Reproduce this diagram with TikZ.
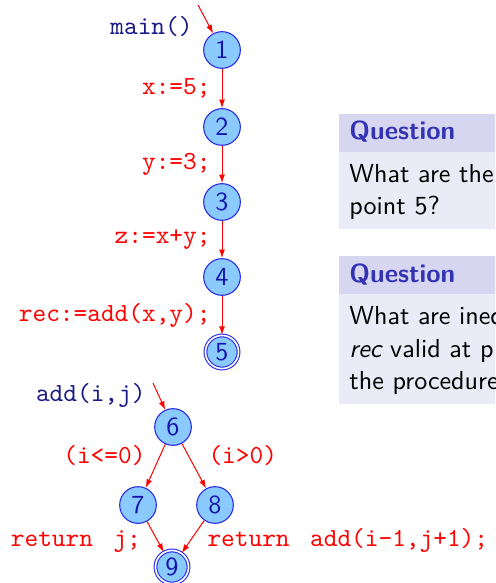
\documentclass[tikz,border=0pt]{standalone}
\usetikzlibrary{arrows.meta}

\definecolor{nodefill}{RGB}{138,202,255}
\definecolor{nodeline}{RGB}{40,40,235}
\definecolor{nodetext}{RGB}{20,20,170}
\definecolor{fnname}{RGB}{25,25,135}
\definecolor{blocktitlebg}{RGB}{214,214,240}
\definecolor{blockbodybg}{RGB}{235,235,247}
\definecolor{blocktitlefg}{RGB}{51,51,179}

\newcommand{\slidefont}{\fontsize{10.95}{13.6}\selectfont}

\begin{document}
\begin{tikzpicture}[x=0.42pt, y=-0.42pt,
  state/.style={circle, draw=nodeline, fill=nodefill, line width=0.45pt,
    minimum size=15.4pt, inner sep=0pt, text=nodetext,
    font=\slidefont\sffamily},
  final/.style={state, double=white, double distance=0.7pt, minimum size=13.9pt},
  arr/.style={draw=red, line width=0.42pt, -{Latex[length=3.6pt,width=2.5pt]}},
  lbl/.style={text=red, inner sep=0pt, font=\slidefont\ttfamily},
  fnlbl/.style={text=fnname, inner sep=0pt, font=\slidefont\ttfamily},
  qtitle/.style={text=blocktitlefg, inner sep=0pt, anchor=base west, font=\slidefont\sffamily\bfseries},
  qbody/.style={text=black, inner sep=0pt, anchor=base west, font=\slidefont\sffamily}
]
\useasboundingbox (0,0) rectangle (495,583);

% question blocks, cut off at the right edge
\begin{scope}
  \clip (0,0) rectangle (495,583);
  \fill[blocktitlebg] (339,114) rectangle (520,152);
  \fill[blockbodybg]  (339,152) rectangle (520,229);
  \node[qtitle] (q1t) at (349,140) {Question};
  \node[qbody] (q1a) at (349,183) {What are the};
  \node[qbody] (q1b) at (349,215) {point 5?};

  \fill[blocktitlebg] (339,256) rectangle (520,294);
  \fill[blockbodybg]  (339,294) rectangle (520,404);
  \node[qtitle] (q2t) at (349,282) {Question};
  \node[qbody] (q2a) at (349,325) {What are ineq};
  \node[qbody] (q2b) at (349,357) {{\itshape rec} valid at p};
  \node[qbody] (q2c) at (349,389) {the procedure};
\end{scope}

% main program
\node[state] (n1) at (222,50)  {1};
\node[state] (n2) at (222,127) {2};
\node[state] (n3) at (222,202) {3};
\node[state] (n4) at (222,277) {4};
\node[final] (n5) at (222,352) {5};

\coordinate (e1) at (198,5);
\node[fnlbl, anchor=east] (lmain) at (193,27) {main()};
\draw[arr] (e1) -- (n1);
\draw[arr] (n1) -- node[lbl, midway, left=4.6pt] {x:=5;} (n2);
\draw[arr] (n2) -- node[lbl, midway, left=4.6pt] {y:=3;} (n3);
\draw[arr] (n3) -- node[lbl, midway, left=4.6pt] {z:=x+y;} (n4);
\draw[arr] (n4) -- node[lbl, midway, left=4.6pt] {rec:=add(x,y);} (n5);

% procedure add
\node[state] (n6) at (173,427) {6};
\node[state] (n7) at (138,505) {7};
\node[state] (n8) at (215,505) {8};
\node[final] (n9) at (172,567) {9};

\coordinate (e6) at (153,383);
\node[fnlbl, anchor=east] (ladd) at (146,395) {add(i,j)};
\draw[arr] (e6) -- (n6);
\draw[arr] (n6) -- node[lbl, midway, anchor=east, xshift=-4pt, yshift=4.6pt] {(i<=0)} (n7);
\draw[arr] (n6) -- node[lbl, midway, anchor=west, xshift=5.9pt, yshift=4.6pt] {(i>0)} (n8);
\draw[arr] (n7) -- node[lbl, midway, anchor=east, xshift=-5.9pt, yshift=-2.1pt] {return\hspace{8.6pt}j;} (n9);
\draw[arr] (n8) -- node[lbl, midway, anchor=west, xshift=5.9pt, yshift=-1.7pt] {return\hspace{8.6pt}add(i-1,j+1);} (n9);
\end{tikzpicture}
\end{document}
